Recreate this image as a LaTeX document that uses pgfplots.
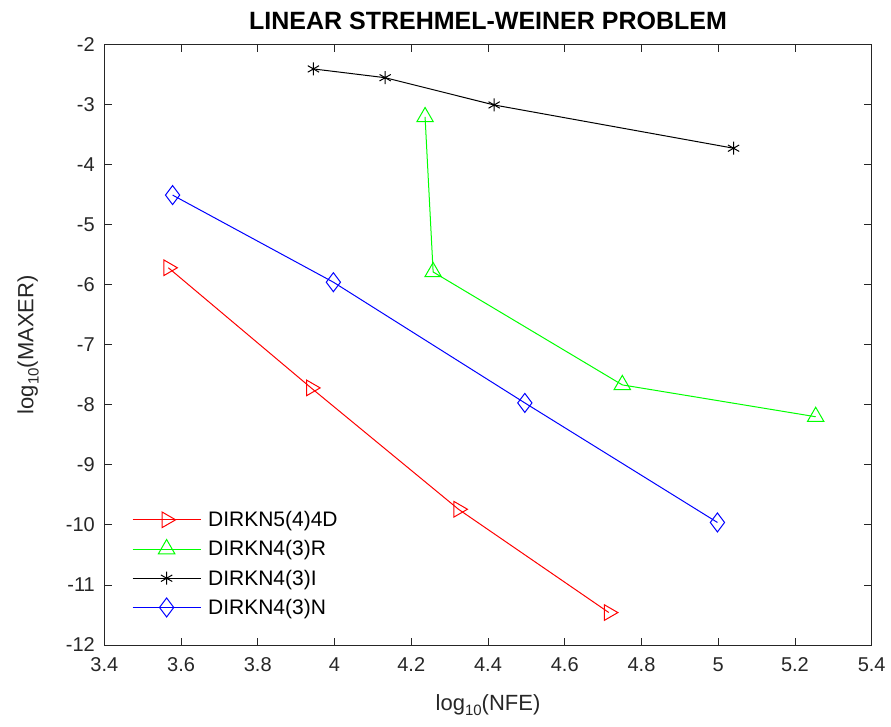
\documentclass[border=0pt]{standalone}
\usepackage{fontspec}
\setmainfont{Liberation Sans}
\usepackage{pgfplots}
\pgfplotsset{compat=1.18}
\definecolor{axgray}{rgb}{0.15,0.15,0.15}
\newcommand{\sub}[1]{\raisebox{-0.45ex}{\fontsize{15}{16}\selectfont #1}}
\begin{document}
\begin{tikzpicture}
\begin{axis}[
 scale only axis, width=767.4pt, height=600.7pt,
 xmin=3.4, xmax=5.4, ymin=-12, ymax=-2,
 xtick={3.4,3.6,3.8,4,4.2,4.4,4.6,4.8,5,5.2,5.4},
 ytick={-12,-11,-10,-9,-8,-7,-6,-5,-4,-3,-2},
 tick align=inside, tick pos=both, major tick length=7.5pt,
 axis line style={axgray, line width=0.8pt},
 every tick/.style={axgray, line width=0.8pt},
 tick label style={font=\fontsize{20}{22}\selectfont, text=axgray},
 xticklabel style={yshift=-9pt},
 yticklabel style={xshift=-6pt},
 /pgf/number format/assume math mode=true,
 title={LINEAR STREHMEL-WEINER PROBLEM},
 title style={font=\bfseries\fontsize{25}{27}\selectfont, at={(axis description cs:0.5,1.029)}, anchor=center},
 xlabel={log\sub{10}(NFE)},
 ylabel={log\sub{10}(MAXER)},
 label style={font=\fontsize{22}{24}\selectfont, text=axgray},
 xlabel style={at={(axis description cs:0.5,-0.1)}, anchor=center},
 ylabel style={at={(axis description cs:-0.0994,0.5)}, anchor=center},
 legend style={draw=none, fill=none, at={(0.036,0.226)}, anchor=north west, inner sep=0pt,
   font=\fontsize{21}{23}\selectfont, row sep=8.5pt, cells={anchor=west}},
 legend cell align=left,
 legend image code/.code={\draw[mark repeat=2,mark phase=2] plot coordinates {(0pt,0pt) (34pt,0pt) (68pt,0pt)}; \path (73pt,0pt);},
]
\addplot[red, line width=1pt, mark=triangle, mark size=9pt, mark options={rotate=-90, solid}] coordinates {
 (3.567,-5.72) (3.939,-7.72) (4.323,-9.74) (4.715,-11.46)};
\addlegendentry{DIRKN5(4)4D}
\addplot[green, line width=1pt, mark=triangle, mark size=9.5pt, mark options={solid}] coordinates {
 (4.236,-3.21) (4.257,-5.79) (4.75,-7.67) (5.254,-8.20)};
\addlegendentry{DIRKN4(3)R}
\addplot[black, line width=1pt, mark=asterisk, mark size=6.5pt, mark options={solid}] coordinates {
 (3.945,-2.41) (4.132,-2.556) (4.416,-3.01) (5.04,-3.73)};
\addlegendentry{DIRKN4(3)I}
\addplot[blue, line width=1pt, mark=diamond, mark size=9.5pt, mark options={solid}] coordinates {
 (3.578,-4.51) (3.997,-5.96) (4.496,-7.97) (4.998,-9.96)};
\addlegendentry{DIRKN4(3)N}
\end{axis}
\pgfresetboundingbox
\path[use as bounding box] (-104.3pt,-81pt) rectangle (786.7pt,645pt);
\end{tikzpicture}
\end{document}
